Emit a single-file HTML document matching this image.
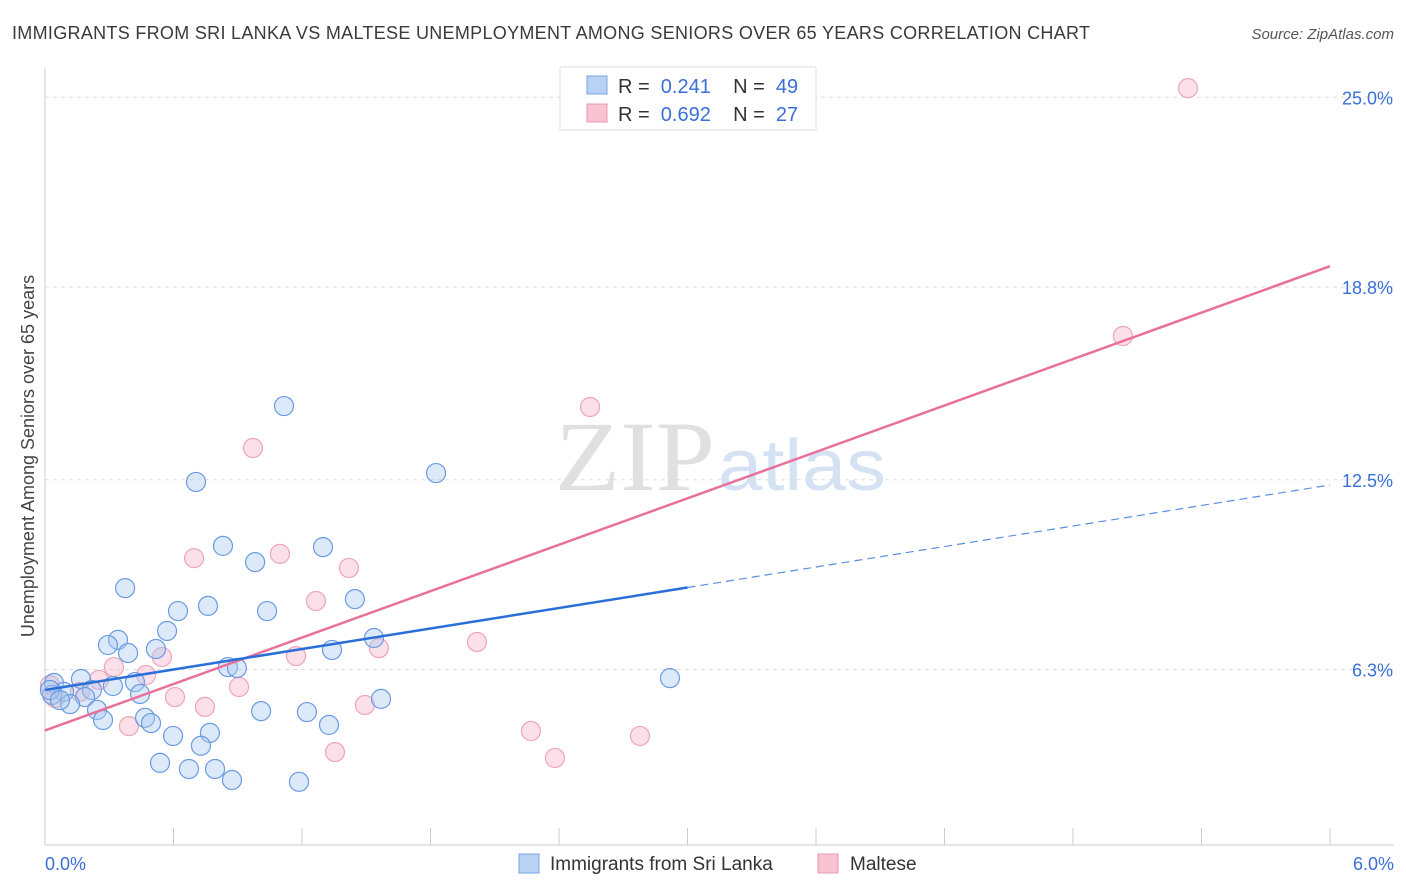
<!DOCTYPE html>
<html><head><meta charset="utf-8"><style>
body{margin:0;background:#fff;font-family:"Liberation Sans",sans-serif}
svg{display:block}
</style></head><body>
<svg id="chart" width="1406" height="892" xmlns="http://www.w3.org/2000/svg" font-family="Liberation Sans, sans-serif">
<text x="12" y="39" font-size="18" fill="#3a3a3a" textLength="1078" lengthAdjust="spacing">IMMIGRANTS FROM SRI LANKA VS MALTESE UNEMPLOYMENT AMONG SENIORS OVER 65 YEARS CORRELATION CHART</text>
<text x="1394" y="39" font-size="15" fill="#555" text-anchor="end" font-style="italic">Source: ZipAtlas.com</text>
<text x="555" y="490" font-size="100" fill="#e0e0e0" font-family="Liberation Serif, serif" textLength="160" lengthAdjust="spacingAndGlyphs">ZIP</text>
<text x="718" y="490" font-size="72" fill="#d4e2f4" textLength="168" lengthAdjust="spacingAndGlyphs">atlas</text>
<text transform="translate(34,456) rotate(-90)" font-size="18" fill="#444" text-anchor="middle">Unemployment Among Seniors over 65 years</text>
<g id="grid"></g><g id="axes"></g><g id="marks"></g>
<g>
<rect x="560" y="67" width="256" height="63" fill="#fff" stroke="#ddd"/>
<rect x="587" y="76" width="20" height="18" fill="#b8d2f3" stroke="#7aa6e0"/>
<rect x="587" y="104" width="20" height="18" fill="#f8c4d4" stroke="#e898b2"/>
<text x="618" y="93" font-size="20" fill="#333" xml:space="preserve">R =  <tspan fill="#3a6fd8">0.241</tspan>    N =  <tspan fill="#3a6fd8">49</tspan></text>
<text x="618" y="121" font-size="20" fill="#333" xml:space="preserve">R =  <tspan fill="#3a6fd8">0.692</tspan>    N =  <tspan fill="#3a6fd8">27</tspan></text>
</g>
<g>
<rect x="519" y="854" width="20" height="19" fill="#b8d2f3" stroke="#7aa6e0"/>
<text x="550" y="870" font-size="19" fill="#333">Immigrants from Sri Lanka</text>
<rect x="818" y="854" width="20" height="19" fill="#f8c4d4" stroke="#e898b2"/>
<text x="850" y="870" font-size="19" fill="#333">Maltese</text>
</g>
</svg>
<script>
const blueX=[1.116,1.826,0.705,0.831,1.298,0.981,0.374,1.447,0.761,0.621,1.037,0.570,0.341,0.294,1.536,0.518,0.388,1.340,0.854,0.896,0.168,0.042,2.918,0.420,0.317,0.219,0.089,0.444,0.033,0.187,1.569,0.117,0.243,1.009,1.223,0.467,0.271,0.495,1.326,0.770,0.598,0.728,0.537,0.672,0.794,0.873,1.186,0.023,0.070];
const blueY=[14.91,12.72,12.43,10.34,10.30,9.81,8.96,8.60,8.38,8.21,8.21,7.56,7.27,7.10,7.33,6.97,6.84,6.94,6.38,6.35,5.99,5.86,6.02,5.89,5.76,5.63,5.57,5.50,5.47,5.40,5.34,5.17,4.98,4.94,4.91,4.72,4.65,4.55,4.49,4.23,4.13,3.81,3.25,3.05,3.05,2.69,2.63,5.63,5.30];
const pinkX=[5.337,5.033,2.545,0.971,0.696,1.097,1.419,1.265,0.546,2.017,1.559,1.172,0.322,0.472,0.252,0.023,0.607,0.906,0.747,1.494,0.392,2.269,2.778,1.354,2.381,0.163,0.047];
const pinkY=[25.30,17.20,14.88,13.54,9.94,10.08,9.62,8.54,6.71,7.20,7.00,6.74,6.38,6.12,5.96,5.79,5.40,5.73,5.08,5.14,4.45,4.29,4.13,3.60,3.41,5.57,5.37];
const yTicks=[6.3,12.5,18.8,25.0];
const yTickLabels=["6.3%","12.5%","18.8%","25.0%"];
const blueTrend=[5.63,12.33];
const pinkTrend=[4.31,19.48];
const blueSolidEnd=3.0;
const NS="http://www.w3.org/2000/svg";
const X=v=>45+v/6*1285;
const Y=v=>862.3-v*30.6;
function el(t,a,p){const e=document.createElementNS(NS,t);for(const k in a)e.setAttribute(k,a[k]);p.appendChild(e);return e;}
const grid=document.getElementById('grid'),axes=document.getElementById('axes'),marks=document.getElementById('marks');
yTicks.forEach((t,i)=>{
 const l=el('line',{x1:45,x2:1394,y1:Y(t),y2:Y(t),stroke:'#ddd','stroke-dasharray':'4,4'},grid);
 
 
 const tx=el('text',{x:1393,y:Y(t)+7,'font-size':18,fill:'#3a6fd8','text-anchor':'end'},axes);
 tx.textContent=yTickLabels[i];
 
 
});
const ax=el('line',{x1:45,x2:1394,y1:845,y2:845,stroke:'#ccc'},axes);


const ay=el('line',{x1:45,x2:45,y1:68,y2:845,stroke:'#ccc'},axes);


for(let i=0;i<=10;i++){const t=el('line',{x1:X(i*0.6),x2:X(i*0.6),y1:828,y2:845,stroke:'#ccc'},axes);
 
 }
const x0=el('text',{x:45,y:870,'font-size':18,fill:'#3a6fd8'},axes);x0.textContent='0.0%';


const x1=el('text',{x:1394,y:870,'font-size':18,fill:'#3a6fd8','text-anchor':'end'},axes);x1.textContent='6.0%';


pinkX.forEach((v,i)=>{const c=el('circle',{cx:X(v),cy:Y(pinkY[i]),r:9.5,fill:'rgba(246,176,200,0.4)',stroke:'#eea4bd','stroke-width':1.2},marks);
 
 });
blueX.forEach((v,i)=>{const c=el('circle',{cx:X(v),cy:Y(blueY[i]),r:9.5,fill:'rgba(168,200,240,0.4)',stroke:'#6a9be0','stroke-width':1.2},marks);
 
 });
const bAt=x=>blueTrend[0]+(blueTrend[1]-blueTrend[0])*x/6;
const pl=el('line',{x1:X(0),y1:Y(pinkTrend[0]),x2:X(6),y2:Y(pinkTrend[1]),stroke:'#e8709a','stroke-width':2.5},marks);


const bl=el('line',{x1:X(0),y1:Y(bAt(0)),x2:X(blueSolidEnd),y2:Y(bAt(blueSolidEnd)),stroke:'#2a6fd8','stroke-width':2.5},marks);


const bd=el('line',{x1:X(blueSolidEnd),y1:Y(bAt(blueSolidEnd)),x2:X(6),y2:Y(bAt(6)),stroke:'#5a8fe0','stroke-width':1.2,'stroke-dasharray':'8,5'},marks);


</script>
</body></html>
